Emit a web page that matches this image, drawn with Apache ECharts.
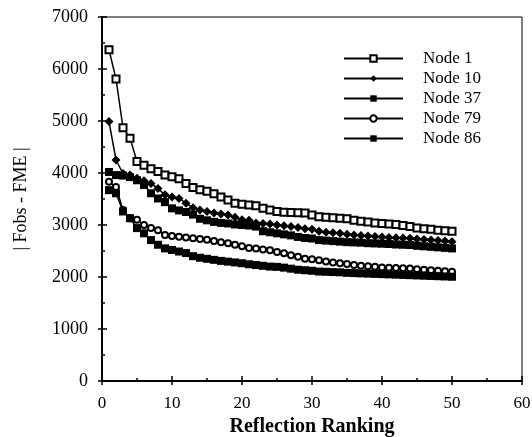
<!DOCTYPE html>
<html>
<head>
<meta charset="utf-8">
<script src="https://cdn.jsdelivr.net/npm/echarts@6/dist/echarts.min.js"></script>
<style>html,body{margin:0;padding:0;background:#fff;}#c{width:532px;height:437px;}</style>
</head>
<body>
<div id="c"></div>
<script>
var ranks = [1,2,3,4,5,6,7,8,9,10,11,12,13,14,15,16,17,18,19,20,21,22,23,24,25,26,27,28,29,30,31,32,33,34,35,36,37,38,39,40,41,42,43,44,45,46,47,48,49,50];
var node1 = [6370,5810,4870,4670,4220,4150,4080,4030,3960,3930,3890,3800,3720,3680,3650,3600,3540,3480,3420,3400,3385,3370,3320,3290,3260,3245,3240,3235,3230,3190,3160,3150,3140,3130,3120,3090,3070,3060,3040,3030,3020,3010,2990,2970,2940,2930,2920,2900,2890,2880];
var node10 = [4990,4250,3990,3960,3900,3850,3800,3700,3580,3540,3510,3420,3330,3290,3260,3230,3210,3190,3150,3100,3090,3040,3030,3020,3000,2985,2970,2950,2930,2920,2880,2860,2850,2840,2820,2810,2800,2790,2780,2770,2760,2755,2750,2745,2730,2720,2710,2700,2690,2680];
var node37 = [4020,3960,3950,3920,3860,3770,3610,3510,3440,3320,3280,3250,3200,3120,3090,3060,3040,3030,3010,3000,2990,2970,2880,2860,2840,2820,2800,2770,2750,2740,2710,2700,2690,2680,2670,2665,2660,2650,2645,2640,2635,2625,2620,2615,2600,2590,2580,2570,2560,2550];
var node79 = [3830,3730,3290,3130,3100,3000,2940,2900,2810,2790,2775,2760,2745,2730,2715,2690,2670,2650,2620,2590,2560,2550,2530,2515,2480,2455,2420,2390,2350,2340,2320,2300,2280,2265,2250,2230,2215,2205,2195,2185,2178,2172,2168,2165,2150,2140,2130,2120,2110,2100];
var node86 = [3670,3610,3260,3130,2940,2840,2710,2620,2550,2520,2490,2460,2400,2370,2350,2330,2310,2295,2280,2265,2245,2230,2215,2200,2195,2180,2160,2140,2130,2120,2105,2100,2095,2090,2080,2075,2070,2065,2060,2055,2050,2045,2040,2035,2030,2025,2020,2015,2010,2005];
var seriesNames = ['Node 1','Node 10','Node 37','Node 79','Node 86'];
var xTitle = 'Reflection Ranking';
var yTitle = '| Fobs - FME |';

var FONT = '"Liberation Serif", "DejaVu Serif", serif';
function pairs(vals){ return ranks.map(function(r,i){ return [r, vals[i]]; }); }
function mk(name, vals, symbol, size){
  return {
    name: name, type: 'line', data: pairs(vals), xAxisIndex: 0, yAxisIndex: 0,
    symbol: symbol, symbolSize: size, showSymbol: true,
    lineStyle: {color: '#000', width: 1.5},
    itemStyle: {color: '#000', borderColor: '#000', borderWidth: symbol.indexOf('empty') === 0 ? 2 : 0},
    emphasis: {disabled: true}, animation: false, z: 3
  };
}
var chart = echarts.init(document.getElementById('c'), null, {renderer: 'canvas'});
chart.setOption({
  animation: false,
  backgroundColor: '#fff',
  grid: {left: 102, right: 10, top: 17, bottom: 56, show: true, borderColor: '#000', borderWidth: 1, containLabel: false, outerBoundsMode: 'none'},
  legend: {
    orient: 'vertical', left: 343, top: 50, padding: 0, itemWidth: 59, itemHeight: 8, itemGap: 3,
    textStyle: {fontFamily: FONT, fontSize: 17, color: '#000', padding: [0,0,0,15], lineHeight: 17},
    data: seriesNames
  },
  xAxis: [
    {type: 'value', min: 0, max: 60, interval: 10, position: 'bottom',
     name: xTitle, nameLocation: 'middle', nameGap: 34,
     nameTextStyle: {fontFamily: FONT, fontSize: 20, fontWeight: 'bold', color: '#000'},
     axisLine: {show: true, lineStyle: {color: '#000', width: 2}},
     axisTick: {show: true, inside: false, length: 4, lineStyle: {color: '#000', width: 1.5}},
     axisLabel: {fontFamily: FONT, fontSize: 17, color: '#000', margin: 14},
     splitLine: {show: false}},
    {type: 'value', min: 0, max: 60, interval: 10, position: 'bottom',
     axisLine: {show: false},
     axisTick: {show: true, inside: true, length: 5, lineStyle: {color: '#000', width: 1.5}},
     minorTick: {show: true, splitNumber: 2, length: 3, lineStyle: {color: '#000', width: 1.5}},
     axisLabel: {show: false}, splitLine: {show: false}}
  ],
  yAxis: [
    {type: 'value', min: 0, max: 7000, interval: 1000, position: 'left',
     name: yTitle, nameLocation: 'middle', nameGap: 72, nameRotate: 90,
     nameTextStyle: {fontFamily: FONT, fontSize: 18, color: '#000'},
     axisLine: {show: true, lineStyle: {color: '#000', width: 2}},
     axisTick: {show: true, inside: false, length: 4, lineStyle: {color: '#000', width: 1.5}},
     axisLabel: {fontFamily: FONT, fontSize: 18, color: '#000', margin: 14, formatter: function(v){ return String(v); }},
     splitLine: {show: false}},
    {type: 'value', min: 0, max: 7000, interval: 1000, position: 'left',
     axisLine: {show: false},
     axisTick: {show: true, inside: true, length: 5, lineStyle: {color: '#000', width: 1.5}},
     minorTick: {show: true, splitNumber: 2, length: 3, lineStyle: {color: '#000', width: 1.5}},
     axisLabel: {show: false}, splitLine: {show: false}}
  ],
  series: [
    mk(seriesNames[0], node1, 'emptyRect', 7),
    mk(seriesNames[1], node10, 'diamond', 9),
    mk(seriesNames[2], node37, 'rect', 8),
    mk(seriesNames[3], node79, 'emptyCircle', 6),
    mk(seriesNames[4], node86, 'rect', 8)
  ]
});
</script>
</body>
</html>
